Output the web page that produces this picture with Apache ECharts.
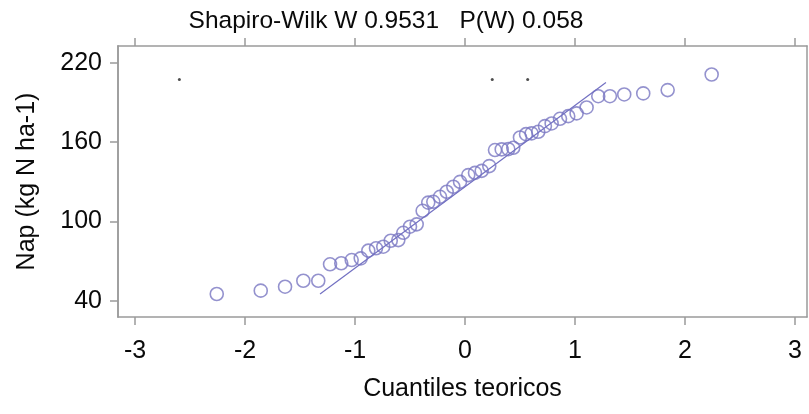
<!DOCTYPE html>
<html>
<head>
<meta charset="utf-8">
<script src="https://cdn.jsdelivr.net/npm/echarts@6/dist/echarts.min.js"></script>
<style>
html,body{margin:0;padding:0;background:#fff;}
#chart{width:809px;height:414px;}
</style>
</head>
<body>
<div id="chart"></div>
<script>
var quantX = [-2.257,-1.857,-1.636,-1.470,-1.334,-1.227,-1.125,-1.030,-0.948,-0.879,-0.809,-0.743,-0.675,-0.606,-0.561,-0.500,-0.439,-0.385,-0.334,-0.288,-0.227,-0.166,-0.106,-0.045,0.030,0.091,0.152,0.221,0.273,0.334,0.394,0.439,0.500,0.555,0.606,0.666,0.727,0.788,0.864,0.939,1.015,1.106,1.212,1.318,1.448,1.621,1.843,2.243];
var napY = [45.3,47.8,50.8,55.3,55.3,67.7,68.5,70.9,72.2,78.0,79.8,81.0,85.5,86.0,91.5,96.1,97.9,108.1,114.3,114.9,118.7,122.5,126.3,130.0,135.1,136.8,138.3,141.9,154.0,154.5,154.7,155.7,163.5,166.0,166.6,167.8,172.1,174.1,177.6,179.6,181.7,186.2,194.7,194.7,196.0,196.8,199.3,211.1];
// Reference line end points
var refLineX = [-1.318, 1.282];
var refLineY = [45.3, 205.1];
// Small stray dots near the top
var dotX = [-2.597, 0.248, 0.570];
var dotY = [207.3, 207.3, 207.3];
// Tick labels
var xTicks = [-3,-2,-1,0,1,2,3];
var yTicks = [40,100,160,220];
var titleText = 'Shapiro-Wilk W 0.9531   P(W) 0.058';
var xName = 'Cuantiles teoricos';
var yName = 'Nap (kg N ha-1)';

var pts = quantX.map(function(x,i){return [x, napY[i]];});
var linePts = refLineX.map(function(x,i){return [x, refLineY[i]];});
var dots = dotX.map(function(x,i){return [x, dotY[i]];});

var FONT = '"Liberation Sans", Arial, Helvetica, sans-serif';
var GREY = '#9a9a9a';
function axLine(){ return {show:true, onZero:false, lineStyle:{color:GREY, width:1.5}}; }
function axTick(vals){ return {show:true, length:8, customValues:vals, lineStyle:{color:GREY, width:1.5}}; }
var gridBox = {left:118, right:2, top:46, bottom:97};

var chart = echarts.init(document.getElementById('chart'));
chart.setOption({
  animation:false,
  backgroundColor:'#fff',
  title:{text:titleText, left:381, top:4, textAlign:'center',
    textStyle:{fontFamily:FONT, fontSize:24.5, fontWeight:'normal', color:'#0a0a0a'}},
  grid:[Object.assign({}, gridBox), Object.assign({}, gridBox)],
  xAxis:[{
    gridIndex:0, type:'value', min:-3.155, max:3.11, position:'bottom',
    axisLine:axLine(),
    axisTick:axTick(xTicks),
    axisLabel:{customValues:xTicks, fontFamily:FONT, fontSize:25, color:'#0a0a0a', margin:22},
    splitLine:{show:false},
    name:xName, nameLocation:'middle', nameGap:60,
    nameTextStyle:{fontFamily:FONT, fontSize:25, color:'#0a0a0a'}
  },{
    gridIndex:0, type:'value', min:-3.155, max:3.11, position:'top',
    axisLine:axLine(),
    axisTick:axTick(xTicks),
    axisLabel:{show:false},
    splitLine:{show:false}
  },{
    // helper x axis for the second (overlaid) grid that only carries the left ticks
    gridIndex:1, type:'value', min:-3.155, max:3.11, position:'bottom',
    axisLine:{show:false, onZero:false}, axisTick:{show:false}, axisLabel:{show:false}, splitLine:{show:false}
  }],
  yAxis:[{
    gridIndex:0, type:'value', min:27.9, max:232.6, position:'left',
    axisLine:axLine(),
    axisTick:axTick(yTicks),
    axisLabel:{customValues:yTicks, fontFamily:FONT, fontSize:25, color:'#0a0a0a', margin:16},
    splitLine:{show:false},
    name:yName, nameLocation:'middle', nameGap:78, nameRotate:90,
    nameTextStyle:{fontFamily:FONT, fontSize:25, color:'#0a0a0a'}
  },{
    gridIndex:0, type:'value', min:27.9, max:232.6, position:'right',
    axisLine:axLine(),
    axisTick:{show:false},
    axisLabel:{show:false},
    splitLine:{show:false}
  },{
    gridIndex:1, type:'value', min:27.9, max:232.6, position:'left',
    axisLine:{show:true, onZero:false, lineStyle:{color:GREY, width:1.5}},
    axisTick:{show:true, length:8, customValues:yTicks, lineStyle:{color:GREY, width:1.5}},
    axisLabel:{show:true, customValues:yTicks, color:'rgba(0,0,0,0)'},
    splitLine:{show:false}
  }],
  series:[{
    type:'line', data:linePts, symbol:'none', silent:true,
    lineStyle:{color:'#7270c2', width:1.2}
  },{
    type:'scatter', data:pts, symbol:'circle', symbolSize:13,
    itemStyle:{color:'rgba(0,0,0,0)', borderColor:'#7977c2', borderWidth:1.6}
  },{
    type:'scatter', data:dots, symbol:'circle', symbolSize:3,
    itemStyle:{color:'#222'}
  }]
});
</script>
</body>
</html>
